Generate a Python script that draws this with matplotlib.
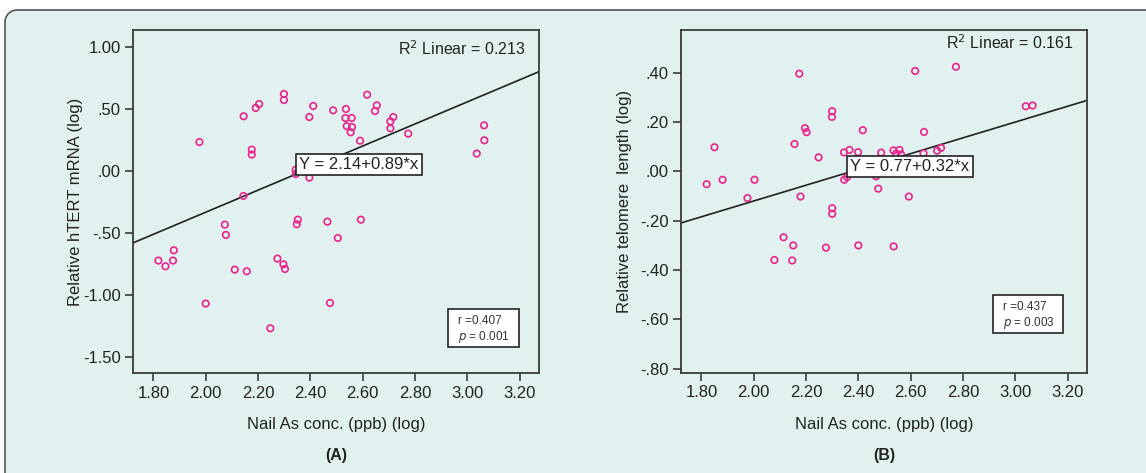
import matplotlib
matplotlib.use("Agg")
import numpy as np
import matplotlib.pyplot as plt
from matplotlib.patches import Rectangle, Arc
from matplotlib.lines import Line2D

# Panel A: nail As (log) vs relative hTERT mRNA (log)
a_x = [1.976, 2.145, 2.191, 2.204, 2.176, 2.176, 2.299, 2.299, 2.396, 2.411,
       2.487, 2.536, 2.534, 2.558, 2.539, 2.559, 2.554, 2.590, 2.617, 2.654,
       2.647, 2.717, 2.706, 2.706, 2.774, 3.064, 3.065, 3.036, 2.344, 2.344,
       2.396, 2.144, 2.073, 2.077, 1.878, 1.819, 1.846, 1.875, 2.111, 2.157,
       2.000, 2.247, 2.274, 2.297, 2.303, 2.352, 2.348, 2.465, 2.505, 2.593,
       2.475]
a_y = [0.236, 0.444, 0.511, 0.543, 0.175, 0.135, 0.624, 0.575, 0.438, 0.527,
       0.492, 0.503, 0.430, 0.430, 0.365, 0.357, 0.315, 0.247, 0.618, 0.532,
       0.486, 0.438, 0.403, 0.347, 0.304, 0.371, 0.250, 0.143, 0.013, -0.022,
       -0.051, -0.199, -0.430, -0.513, -0.637, -0.720, -0.766, -0.720, -0.793, -0.806,
       -1.067, -1.266, -0.704, -0.750, -0.788, -0.390, -0.427, -0.406, -0.538, -0.390,
       -1.062]

# Panel B: nail As (log) vs relative telomere length (log)
b_x = [2.174, 2.617, 2.773, 3.040, 3.066, 2.300, 2.299, 2.196, 2.202, 2.417,
       2.651, 1.850, 2.156, 2.248, 2.345, 2.366, 2.399, 2.487, 2.534, 2.557,
       2.544, 2.563, 2.649, 2.701, 2.716, 1.820, 1.881, 2.003, 2.346, 2.357,
       2.468, 2.476, 1.976, 2.179, 2.593, 2.300, 2.300, 2.114, 2.151, 2.276,
       2.400, 2.535, 2.079, 2.147]
b_y = [0.396, 0.407, 0.424, 0.264, 0.267, 0.244, 0.221, 0.175, 0.159, 0.167,
       0.160, 0.098, 0.111, 0.057, 0.077, 0.087, 0.078, 0.076, 0.085, 0.087,
       0.072, 0.069, 0.073, 0.084, 0.095, -0.052, -0.034, -0.034, -0.034, -0.023,
       -0.020, -0.070, -0.108, -0.102, -0.102, -0.149, -0.172, -0.267, -0.300, -0.309,
       -0.300, -0.304, -0.359, -0.361]

# fitted line (intercept, slope) as drawn
a_fit = (-2.11, 0.89)
b_fit = (-0.76, 0.32)

x_ticks = [1.80, 2.00, 2.20, 2.40, 2.60, 2.80, 3.00, 3.20]
x_labels = ["1.80", "2.00", "2.20", "2.40", "2.60", "2.80", "3.00", "3.20"]
a_ticks = [1.0, 0.5, 0.0, -0.5, -1.0, -1.5]
a_labels = ["1.00", ".50", ".00", "-.50", "-1.00", "-1.50"]
b_ticks = [0.4, 0.2, 0.0, -0.2, -0.4, -0.6, -0.8]
b_labels = [".40", ".20", ".00", "-.20", "-.40", "-.60", "-.80"]

BG = "#E1F1F0"
PINK = "#E8238C"
DARK = "#3a3a3a"
EDGE = "#555555"

plt.rcParams["font.family"] = ["Liberation Sans", "DejaVu Sans"]

W, H = 1146, 473

fig = plt.figure(figsize=(W / 100, H / 100), dpi=100)
fig.patch.set_facecolor("white")

# outer panel: filled background, rounded top-left corner, open right/bottom
R = 12
left, top = 5, 10
fig.patches.append(Rectangle(((left + R) / W, 0), 1, 1 - top / H,
                             transform=fig.transFigure, facecolor=BG,
                             edgecolor="none", zorder=-6))
fig.patches.append(Rectangle((left / W, 0), 1, 1 - (top + R) / H,
                             transform=fig.transFigure, facecolor=BG,
                             edgecolor="none", zorder=-6))
th = np.linspace(np.pi / 2, np.pi, 30)
cx, cy = left + R, top + R
arc_x = (cx + R * np.cos(th)) / W
arc_y = 1 - (cy - R * np.sin(th)) / H
fig.patches.append(plt.Polygon(np.column_stack([np.r_[arc_x, (cx) / W], np.r_[arc_y, 1 - cy / H]]),
                               closed=True, transform=fig.transFigure,
                               facecolor=BG, edgecolor="none", zorder=-6))
border_x = np.r_[left / W, arc_x[::-1], 1.01]
border_y = np.r_[-0.01, arc_y[::-1], 1 - top / H]
fig.lines.append(Line2D(border_x, border_y, transform=fig.transFigure,
                        color=EDGE, lw=1.2, zorder=-5))


def panel(rect, xs, ys, fit, ylim, yticks, ylabels, ylabel, ypad, r2, r2_y,
          eq, eq_xy, r_txt, p_txt, rbox, letter):
    l, t, r, b = rect
    ax = fig.add_axes([l / W, 1 - b / H, (r - l) / W, (b - t) / H])
    ax.set_facecolor(BG)
    ax.set_xlim(1.722, 3.274)
    ax.set_ylim(*ylim)
    ax.scatter(xs, ys, s=22, facecolors="none", edgecolors=PINK,
               linewidths=1.2, zorder=3)
    x0, x1 = ax.get_xlim()
    ax.plot([x0, x1], [fit[0] + fit[1] * x0, fit[0] + fit[1] * x1],
            color="#222222", lw=1.2, zorder=2)
    ax.set_xticks(x_ticks)
    ax.set_xticklabels(x_labels)
    ax.set_yticks(yticks)
    ax.set_yticklabels(ylabels)
    ax.tick_params(direction="out", length=6, width=1.2, color=DARK,
                   labelsize=12, labelcolor="#222222", pad=3)
    for sp in ax.spines.values():
        sp.set_color(DARK)
        sp.set_linewidth(1.3)
    ax.set_xlabel("Nail As conc. (ppb) (log)", fontsize=12, color="#222222",
                  labelpad=12)
    ax.set_ylabel(ylabel, fontsize=12, color="#222222", labelpad=ypad)
    ax.text(0.968, r2_y, r2, transform=ax.transAxes, ha="right",
            va="center", fontsize=11.5, color="#222222")
    ax.text(eq_xy[0], eq_xy[1], eq, ha="center", va="center", fontsize=12,
            color="#222222", zorder=5,
            bbox=dict(boxstyle="square,pad=0.2", facecolor="white",
                      edgecolor="#222222", linewidth=1.2))
    # r / p box
    bx0, by0, bx1, by1 = rbox
    ax.add_patch(plt.Rectangle(((bx0 - l) / (r - l), 1 - (by1 - t) / (b - t)),
                               (bx1 - bx0) / (r - l), (by1 - by0) / (b - t),
                               transform=ax.transAxes, facecolor="white",
                               edgecolor="#222222", lw=1.2, zorder=4))
    tx = (bx0 + 10 - l) / (r - l)
    ax.text(tx, 1 - (by0 + 12 - t) / (b - t), r_txt, transform=ax.transAxes,
            fontsize=8.5, color="#333333", va="center", zorder=5)
    ax.text(tx, 1 - (by0 + 28 - t) / (b - t), p_txt, transform=ax.transAxes,
            fontsize=8.5, color="#333333", va="center", zorder=5)
    fig.text((l + r) / 2 / W, 1 - 455 / H, letter, ha="center", va="center",
             fontsize=11.5, fontweight="bold", color="#222222")
    return ax


panel((133, 30, 539, 373), a_x, a_y, a_fit, (-1.627, 1.14), a_ticks, a_labels,
      "Relative hTERT mRNA (log)", 0, "R$^2$ Linear = 0.213", 0.945,
      "Y = 2.14+0.89*x", (2.586, 0.056), "r =0.407", "$p$ = 0.001",
      (448, 309, 519, 347), "(A)")
panel((681, 30, 1087, 372.5), b_x, b_y, b_fit, (-0.815, 0.573), b_ticks, b_labels,
      "Relative telomere  length (log)", 6, "R$^2$ Linear = 0.161", 0.963,
      "Y = 0.77+0.32*x", (2.597, 0.020), "r =0.437", "$p$ = 0.003",
      (993, 295, 1063, 333), "(B)")

fig.savefig("out.png", dpi=100, facecolor=fig.get_facecolor())
